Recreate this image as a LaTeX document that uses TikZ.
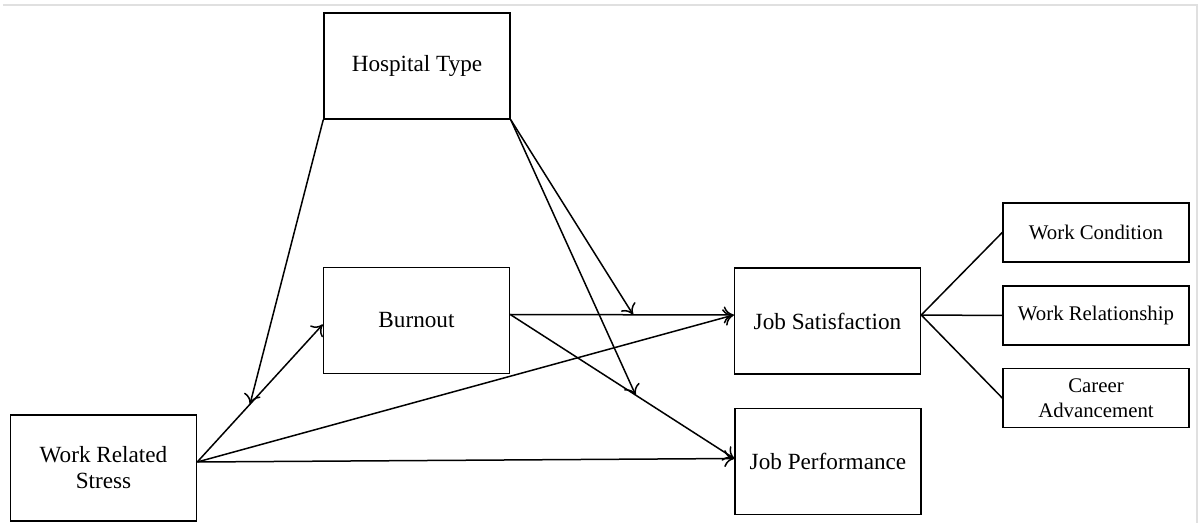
\documentclass[tikz,border=0pt]{standalone}
\usepackage{fontspec}
\setmainfont{Liberation Serif}
\usetikzlibrary{arrows.meta,calc}

\begin{document}
\begin{tikzpicture}[x=0.5pt,y=-0.5pt,
  box/.style={draw, line width=0.75pt, align=center, inner sep=0pt,
    font=\fontsize{11.6}{13}\selectfont},
  bigbox/.style={box, minimum width=93pt, minimum height=53pt},
  smallbox/.style={box, minimum width=93pt, minimum height=29.5pt,
    font=\fontsize{10.4}{12.5}\selectfont},
  link/.style={line width=0.75pt, -{To[length=5pt,width=8.5pt]}},
  plain/.style={line width=0.75pt},
  frame/.style={draw=black!12, line width=0.8pt}]

  % page area and thin outer frame
  \useasboundingbox (0,0) rectangle (1199,523);
  \coordinate (fA) at (3,5);
  \coordinate (fB) at (1197,5);
  \coordinate (fC) at (1197,523);
  \draw[frame] (fA) -- (fB) -- (fC);

  % constructs
  \node[bigbox] (ht)  at (417,66)     {Hospital Type};
  \node[bigbox] (bo)  at (416.5,320.5) {Burnout};
  \node[bigbox] (js)  at (827.5,321)  {Job Satisfaction};
  \node[bigbox] (jp)  at (828,461.5)  {Job Performance};
  \node[bigbox] (wrs) at (103.5,468)  {Work Related\\Stress};

  % job satisfaction dimensions
  \node[smallbox] (wc) at (1096,232.5) {Work Condition};
  \node[smallbox] (wr) at (1096,315.5) {Work Relationship};
  \node[smallbox] (ca) at (1096,398)   {Career\\Advancement};

  % attachment points on the box sides
  \coordinate (wrsE) at ($(wrs.east)+(0,-6)$);
  \coordinate (boW)  at ($(bo.west)+(0,4)$);
  \coordinate (boE)  at ($(bo.east)+(0,-6)$);
  \coordinate (jsW)  at ($(js.west)+(0,-6)$);
  \coordinate (jsE)  at ($(js.east)+(0,-6)$);
  \coordinate (jpW)  at ($(jp.west)+(0,-3)$);

  % moderation targets on the paths
  \coordinate (mWB) at ($(wrsE)!0.42!(boW)$);
  \coordinate (mBS) at ($(boE)!0.55!(jsW)$);
  \coordinate (mBP) at ($(boE)!0.56!(jpW)$);

  % main paths
  \draw[link] (wrsE) -- (boW);
  \draw[link] (wrsE) -- (jsW);
  \draw[link] (wrsE) -- (jpW);
  \draw[link] (boE) -- (jsW);
  \draw[link] (boE) -- (jpW);

  % moderating effects of hospital type
  \draw[link] (ht.south west) -- (mWB);
  \draw[link] (ht.south east) -- (mBS);
  \draw[link] (ht.south east) -- (mBP);

  % dimensions of job satisfaction
  \draw[plain] (jsE) -- (wc.west);
  \draw[plain] (jsE) -- (wr.west);
  \draw[plain] (jsE) -- (ca.west);
\end{tikzpicture}
\end{document}
